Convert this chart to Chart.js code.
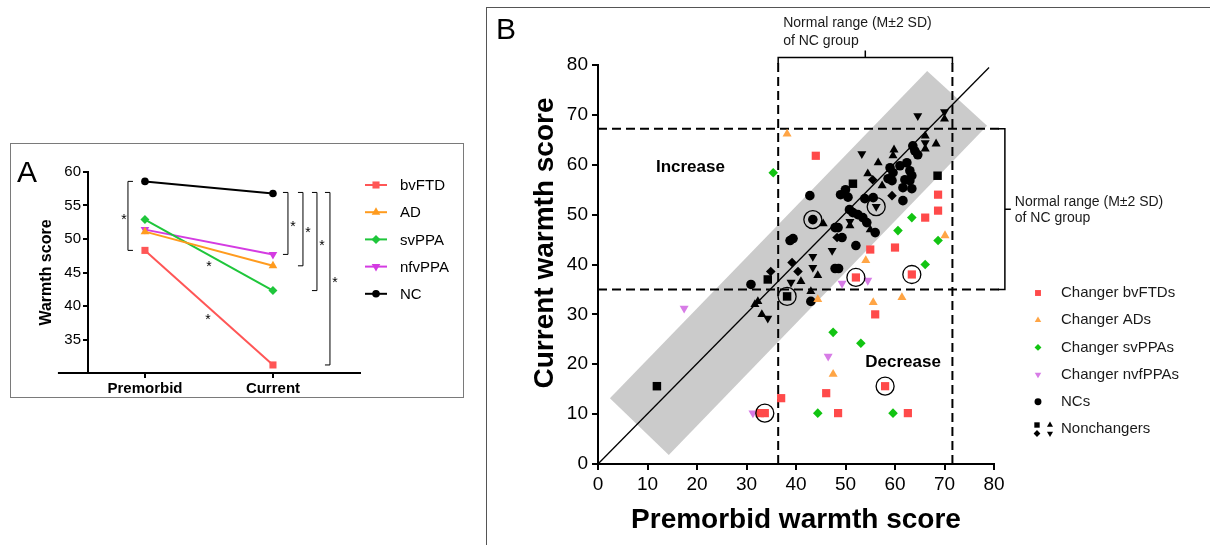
<!DOCTYPE html>
<html>
<head>
<meta charset="utf-8">
<title>Warmth score</title>
<script src="https://cdn.jsdelivr.net/npm/chart.js@4.4.1/dist/chart.umd.min.js"></script>
<style>
  body { margin: 0; width: 1210px; height: 545px; background: #fff; position: relative; overflow: hidden; font-family: Arial, "Liberation Sans", sans-serif; }
  .frame { position: absolute; border: 1px solid #7a7a7a; }
  #frameA { left: 10px; top: 143px; width: 452px; height: 253px; }
  #frameB { left: 486px; top: 7px; width: 800px; height: 700px; border-color: #555; }
  canvas { position: absolute; }
  #chartA { left: 10px; top: 143px; }
  #chartB { left: 487px; top: 8px; }
  .tag { position: absolute; font-size: 30px; line-height: 1; color: #000; }
</style>
</head>
<body>
<div class="frame" id="frameA"></div>
<div class="frame" id="frameB"></div>
<canvas id="chartA" width="454" height="255"></canvas>
<canvas id="chartB" width="723" height="537"></canvas>
<div class="tag" style="left:17px;top:157px">A</div>
<div class="tag" style="left:496px;top:14px;font-size:30px">B</div>
<script>
// panel A: group means
const stages = ['Premorbid', 'Current'];
const groupNames = ['bvFTD', 'AD', 'svPPA', 'nfvPPA', 'NC'];
const bvFTD = [48.3, 31.2];
const AD = [51.1, 46.0];
const svPPA = [52.9, 42.3];
const nfvPPA = [51.4, 47.7];
const NC = [58.6, 56.8];

// panel B: individual scores (x = premorbid, y = current)
const bvX = [44.0, 68.7, 68.7, 66.1, 60.0, 55.0, 52.1, 63.4, 56.0, 58.0, 46.1, 37.0, 32.7, 33.7, 48.5, 62.6];
const bvY = [61.8, 54.0, 50.8, 49.4, 43.4, 43.0, 37.4, 38.0, 30.0, 15.6, 14.2, 13.2, 10.2, 10.2, 10.2, 10.2];
const adX = [38.2, 54.1, 70.1, 44.4, 55.6, 61.4, 47.5];
const adY = [66.2, 40.8, 45.8, 33.0, 32.4, 33.4, 18.0];
const svX = [35.4, 63.4, 60.6, 68.7, 66.1, 47.5, 53.1, 44.4, 59.6];
const svY = [58.4, 49.4, 46.8, 44.8, 40.0, 26.4, 24.2, 10.2, 10.2];
const nfX = [17.4, 49.3, 54.5, 46.5, 31.3];
const nfY = [31.2, 36.2, 36.8, 21.6, 10.2];
const ncX = [63.6, 64.0, 62.4, 61.0, 59.0, 59.6, 63.0, 63.4, 63.0, 63.4, 61.6, 58.6, 59.4, 50.0, 49.0, 50.5, 53.9, 55.6, 61.6, 42.8,
             51.5, 52.5, 53.5, 54.3, 47.9, 48.5, 56.0, 49.3, 38.8, 39.4, 52.1, 47.9, 48.6, 30.9, 43.0, 43.4, 64.6, 62.0, 50.8];
const ncY = [63.8, 62.8, 60.4, 59.8, 59.4, 58.4, 58.8, 57.8, 56.8, 55.2, 55.4, 57.2, 56.8, 55.0, 54.0, 53.5, 53.2, 53.4, 52.8, 53.8,
             50.4, 50.0, 49.4, 48.4, 47.4, 47.4, 46.4, 45.4, 44.8, 45.2, 43.8, 39.2, 39.2, 36.0, 32.6, 49.0, 62.0, 57.0, 51.0];
const nbX = [51.5, 68.6, 34.3, 38.2, 11.9];
const nbY = [56.2, 57.8, 37.0, 33.6, 15.6];
const naX = [66.1, 68.3, 70.0, 59.8, 59.6, 56.6, 54.5, 57.4, 45.5, 44.4, 41.0, 43.0, 31.7, 32.3, 33.1, 66.1, 49.9, 50.9, 55.0];
const naY = [65.8, 64.2, 69.2, 63.0, 61.8, 60.4, 58.2, 55.8, 48.2, 37.8, 36.6, 34.6, 32.0, 32.6, 30.0, 63.2, 54.0, 47.8, 47.0];
const nsX = [59.4, 48.3, 39.2, 40.4, 34.9, 55.5];
const nsY = [53.8, 45.4, 40.4, 38.6, 38.6, 57.0];
const nnX = [64.6, 70.0, 53.3, 66.1, 49.9, 50.9, 56.2, 47.3, 43.4, 43.4, 39.0, 34.3];
const nnY = [69.8, 70.6, 62.2, 64.4, 54.8, 48.6, 51.6, 42.8, 41.6, 39.4, 36.4, 29.2];
const circX = [43.4, 56.2, 52.1, 63.4, 38.2, 58.0, 33.7];
const circY = [49.0, 51.6, 37.4, 38.0, 33.6, 15.6, 10.2];
const bandX = [2.4, 14.3, 78.6, 66.5];
const bandY = [13.2, 1.8, 67.8, 78.8];
const rangeX = [36.4, 71.6];
const rangeY = [35.0, 67.2];
const legendB = ['Changer bvFTDs', 'Changer ADs', 'Changer svPPAs', 'Changer nvfPPAs', 'NCs', 'Nonchangers'];

const FONT = "Arial, 'Liberation Sans', sans-serif";
Chart.defaults.font.family = FONT;
Chart.defaults.color = '#000';

function pts(xs, ys) {
    return xs.map((x, i) => ({x: x, y: ys[i]}));
}

function mark(ctx, style, rot, r, x, y, color) {
    ctx.fillStyle = color;
    ctx.strokeStyle = color;
    Chart.helpers.drawPoint(ctx, {pointStyle: style, rotation: rot, radius: r, borderWidth: 0}, x, y);
}

// ---------- panel A ----------
const looks = [
    {color: '#ff5656', style: 'rect', rot: 0, r: 5},
    {color: '#ff9b1e', style: 'triangle', rot: 0, r: 5},
    {color: '#1fc63b', style: 'rectRot', rot: 0, r: 4.5},
    {color: '#d43be2', style: 'triangle', rot: 180, r: 5},
    {color: '#000000', style: 'circle', rot: 0, r: 3.8}
];
const seriesA = [bvFTD, AD, svPPA, nfvPPA, NC];

const annotA = {
    id: 'annotA',
    afterDraw(chart) {
        const ctx = chart.ctx;
        const area = chart.chartArea;
        const x = chart.scales.x, y = chart.scales.y;
        ctx.save();
        ctx.strokeStyle = '#000';
        ctx.lineWidth = 2;
        ctx.beginPath();
        ctx.moveTo(x.getPixelForValue(-0.68), area.bottom);
        ctx.lineTo(area.left, area.bottom);
        ctx.stroke();

        ctx.lineWidth = 1;
        ctx.fillStyle = '#000';
        ctx.font = '14px ' + FONT;
        ctx.textAlign = 'center';
        ctx.textBaseline = 'alphabetic';
        const star = (px, py) => ctx.fillText('*', px, py + 8);
        const bracket = (px, top, bottom, dir) => {
            ctx.beginPath();
            ctx.moveTo(px + 5 * dir, top);
            ctx.lineTo(px, top);
            ctx.lineTo(px, bottom);
            ctx.lineTo(px + 5 * dir, bottom);
            ctx.stroke();
        };
        const p0 = x.getPixelForValue(0), p1 = x.getPixelForValue(1);
        let top = y.getPixelForValue(NC[0]), bot = y.getPixelForValue(bvFTD[0]);
        bracket(p0 - 17, top, bot, 1);
        star(p0 - 21, (top + bot) / 2);
        const offs = [15, 30, 44, 57];
        const lows = [nfvPPA[1], AD[1], svPPA[1], bvFTD[1]];
        offs.forEach((o, i) => {
            const t = y.getPixelForValue(NC[1]) - 1, b = y.getPixelForValue(lows[i]);
            bracket(p1 + o, t, b, -1);
            star(p1 + o + 5, (t + b) / 2);
        });
        const mx = (p0 + p1) / 2;
        star(mx, y.getPixelForValue((svPPA[0] + svPPA[1]) / 2) + 8);
        star(mx - 1, y.getPixelForValue((bvFTD[0] + bvFTD[1]) / 2) + 8);

        // legend
        ctx.font = '15px ' + FONT;
        ctx.textAlign = 'left';
        ctx.textBaseline = 'middle';
        groupNames.forEach((g, i) => {
            const ly = 42 + i * 27.2;
            ctx.strokeStyle = looks[i].color;
            ctx.lineWidth = 2;
            ctx.beginPath();
            ctx.moveTo(355, ly);
            ctx.lineTo(377, ly);
            ctx.stroke();
            mark(ctx, looks[i].style, looks[i].rot, looks[i].r, 366, ly, looks[i].color);
            ctx.fillStyle = '#000';
            ctx.fillText(g, 390, ly + 1);
        });
        ctx.restore();
    }
};

new Chart(document.getElementById('chartA'), {
    type: 'line',
    data: {
        datasets: seriesA.map((vals, i) => ({
            label: groupNames[i],
            data: vals.map((v, k) => ({x: k, y: v})),
            borderColor: looks[i].color,
            backgroundColor: looks[i].color,
            borderWidth: 2,
            pointStyle: looks[i].style,
            pointRotation: looks[i].rot,
            pointRadius: looks[i].r,
            pointBorderWidth: 0,
            tension: 0
        }))
    },
    options: {
        responsive: false,
        animation: false,
        devicePixelRatio: 1,
        layout: {padding: {left: 0, top: 29, right: 104, bottom: 0}},
        plugins: {legend: {display: false}, tooltip: {enabled: false}},
        scales: {
            x: {
                type: 'linear', min: -0.445, max: 1.68,
                afterBuildTicks: s => { s.ticks = stages.map((_, k) => ({value: k})); },
                afterFit: s => { s.height = 25; },
                grid: {drawOnChartArea: false, color: '#000', lineWidth: 2, tickLength: 5},
                border: {color: '#000', width: 2},
                ticks: {callback: v => stages[v], font: {size: 15, weight: 'bold'}, padding: 2, maxRotation: 0}
            },
            y: {
                min: 30, max: 60,
                afterFit: s => { s.width = 78; },
                grid: {drawOnChartArea: false, color: c => c.tick && c.tick.value === 30 ? 'rgba(0,0,0,0)' : '#000', lineWidth: 2, tickLength: 5},
                border: {color: '#000', width: 2},
                ticks: {stepSize: 5, callback: v => v === 30 ? '' : v, font: {size: 15}, padding: 2},
                title: {display: true, text: 'Warmth score', font: {size: 16, weight: 'bold'}, padding: {top: 27, bottom: 0}}
            }
        }
    },
    plugins: [annotA]
});

// ---------- panel B ----------
const groupsB = [
    {xs: bvX, ys: bvY, color: '#ff4a4a', style: 'rect', rot: 0, r: 5.8},
    {xs: adX, ys: adY, color: '#ffa545', style: 'triangle', rot: 0, r: 5.2},
    {xs: svX, ys: svY, color: '#12c412', style: 'rectRot', rot: 0, r: 4.8},
    {xs: nfX, ys: nfY, color: '#d77ce6', style: 'triangle', rot: 180, r: 5.2},
    {xs: ncX, ys: ncY, color: '#000', style: 'circle', rot: 0, r: 4.8},
    {xs: nbX, ys: nbY, color: '#000', style: 'rect', rot: 0, r: 6},
    {xs: naX, ys: naY, color: '#000', style: 'triangle', rot: 0, r: 5.2},
    {xs: nsX, ys: nsY, color: '#000', style: 'rectRot', rot: 0, r: 4.8},
    {xs: nnX, ys: nnY, color: '#000', style: 'triangle', rot: 180, r: 5.2}
];

const datasetsB = groupsB.map((g, i) => ({
    data: pts(g.xs, g.ys),
    pointStyle: g.style,
    pointRotation: g.rot,
    pointRadius: g.r,
    pointBorderWidth: 0,
    backgroundColor: g.color,
    borderColor: g.color,
    order: i < 4 ? 1 : 2
}));
datasetsB.push({
    data: pts(circX, circY), pointStyle: 'circle', pointRadius: 9, pointBorderWidth: 1.3,
    borderColor: '#000', backgroundColor: 'rgba(0,0,0,0)', order: 0
});
datasetsB.push({
    data: [{x: 0, y: 0}, {x: 79, y: 79.5}], showLine: true, borderColor: '#000', borderWidth: 1.3,
    pointRadius: 0, order: 5
});
rangeX.forEach(v => datasetsB.push({
    data: [{x: v, y: 0}, {x: v, y: 80.4}], showLine: true, borderColor: '#000', borderWidth: 2,
    borderDash: [9, 5], pointRadius: 0, clip: false, order: 4
}));
rangeY.forEach(v => datasetsB.push({
    data: [{x: 0, y: v}, {x: 81.2, y: v}], showLine: true, borderColor: '#000', borderWidth: 2,
    borderDash: [9, 5], pointRadius: 0, clip: false, order: 4
}));

const annotB = {
    id: 'annotB',
    beforeDatasetsDraw(chart) {
        const ctx = chart.ctx;
        const x = chart.scales.x, y = chart.scales.y;
        ctx.save();
        ctx.fillStyle = '#cbcbcb';
        ctx.beginPath();
        bandX.forEach((v, i) => {
            const px = x.getPixelForValue(v), py = y.getPixelForValue(bandY[i]);
            if (i === 0) ctx.moveTo(px, py); else ctx.lineTo(px, py);
        });
        ctx.closePath();
        ctx.fill();
        ctx.restore();
    },
    afterDraw(chart) {
        const ctx = chart.ctx;
        const x = chart.scales.x, y = chart.scales.y;
        const X = v => x.getPixelForValue(v), Y = v => y.getPixelForValue(v);
        ctx.save();
        // y axis title, sitting a little above the axis middle as in the figure
        ctx.fillStyle = '#000';
        ctx.font = 'bold 28px ' + FONT;
        ctx.textAlign = 'center';
        ctx.textBaseline = 'middle';
        ctx.translate(58, 235);
        ctx.rotate(-Math.PI / 2);
        ctx.fillText('Current warmth score', 0, 0);
        ctx.setTransform(1, 0, 0, 1, 0, 0);

        ctx.strokeStyle = '#000';
        ctx.lineWidth = 1.5;
        // bracket over the premorbid normal range
        ctx.beginPath();
        ctx.moveTo(X(rangeX[0]), Y(80.2));
        ctx.lineTo(X(rangeX[0]), Y(81.5));
        ctx.lineTo(X(rangeX[1]), Y(81.5));
        ctx.lineTo(X(rangeX[1]), Y(80.2));
        ctx.moveTo(X((rangeX[0] + rangeX[1]) / 2), Y(81.5));
        ctx.lineTo(X((rangeX[0] + rangeX[1]) / 2), Y(82.9));
        ctx.stroke();
        // bracket beside the current normal range
        ctx.beginPath();
        ctx.moveTo(X(80.8), Y(rangeY[1]));
        ctx.lineTo(X(82.2), Y(rangeY[1]));
        ctx.lineTo(X(82.2), Y(rangeY[0]));
        ctx.lineTo(X(80.8), Y(rangeY[0]));
        ctx.moveTo(X(82.2), Y((rangeY[0] + rangeY[1]) / 2));
        ctx.lineTo(X(83.4), Y((rangeY[0] + rangeY[1]) / 2));
        ctx.stroke();

        ctx.fillStyle = '#1a1a1a';
        ctx.font = '14px ' + FONT;
        ctx.textAlign = 'left';
        ctx.textBaseline = 'middle';
        ctx.fillText('Normal range (M\u00b12 SD)', X(rangeX[0]) + 5, Y(88.4));
        ctx.fillText('of NC group', X(rangeX[0]) + 5, Y(84.8));
        ctx.fillText('Normal range (M\u00b12 SD)', X(84.2), Y(52.6));
        ctx.fillText('of NC group', X(84.2), Y(49.2));

        ctx.fillStyle = '#000';
        ctx.font = 'bold 17px ' + FONT;
        ctx.fillText('Increase', X(11.7), Y(59.4));
        ctx.fillText('Decrease', X(54.0), Y(20.4));

        // legend
        ctx.font = '15px ' + FONT;
        legendB.forEach((t, i) => {
            const ly = 285 + i * 27.2;
            if (i < 5) {
                const g = groupsB[i];
                mark(ctx, g.style, g.rot, g.r * 0.72, 551, ly, g.color);
            } else {
                mark(ctx, 'rect', 0, 3.8, 550, ly - 4, '#000');
                mark(ctx, 'triangle', 0, 3.5, 563, ly - 4, '#000');
                mark(ctx, 'rectRot', 0, 3.4, 550, ly + 4.5, '#000');
                mark(ctx, 'triangle', 180, 3.5, 563, ly + 4.5, '#000');
            }
            ctx.fillStyle = '#1a1a1a';
            ctx.fillText(t, 574, ly);
        });
        ctx.restore();
    }
};

new Chart(document.getElementById('chartB'), {
    type: 'scatter',
    data: {datasets: datasetsB},
    options: {
        responsive: false,
        animation: false,
        devicePixelRatio: 1,
        layout: {padding: {left: 0, top: 57, right: 216, bottom: 0}},
        plugins: {legend: {display: false}, tooltip: {enabled: false}},
        scales: {
            x: {
                min: 0, max: 80,
                afterFit: s => { s.height = 81; },
                grid: {drawOnChartArea: false, color: '#000', lineWidth: 2, tickLength: 6},
                border: {color: '#000', width: 2},
                ticks: {stepSize: 10, font: {size: 19}, padding: 3, maxRotation: 0},
                title: {display: true, text: 'Premorbid warmth score', font: {size: 28, weight: 'bold'}, padding: {top: 0, bottom: 8}}
            },
            y: {
                min: 0, max: 80,
                afterFit: s => { s.width = 111; },
                grid: {drawOnChartArea: false, color: '#000', lineWidth: 2, tickLength: 6},
                border: {color: '#000', width: 2},
                ticks: {stepSize: 10, font: {size: 19}, padding: 4}
            }
        }
    },
    plugins: [annotB]
});
</script>
</body>
</html>
